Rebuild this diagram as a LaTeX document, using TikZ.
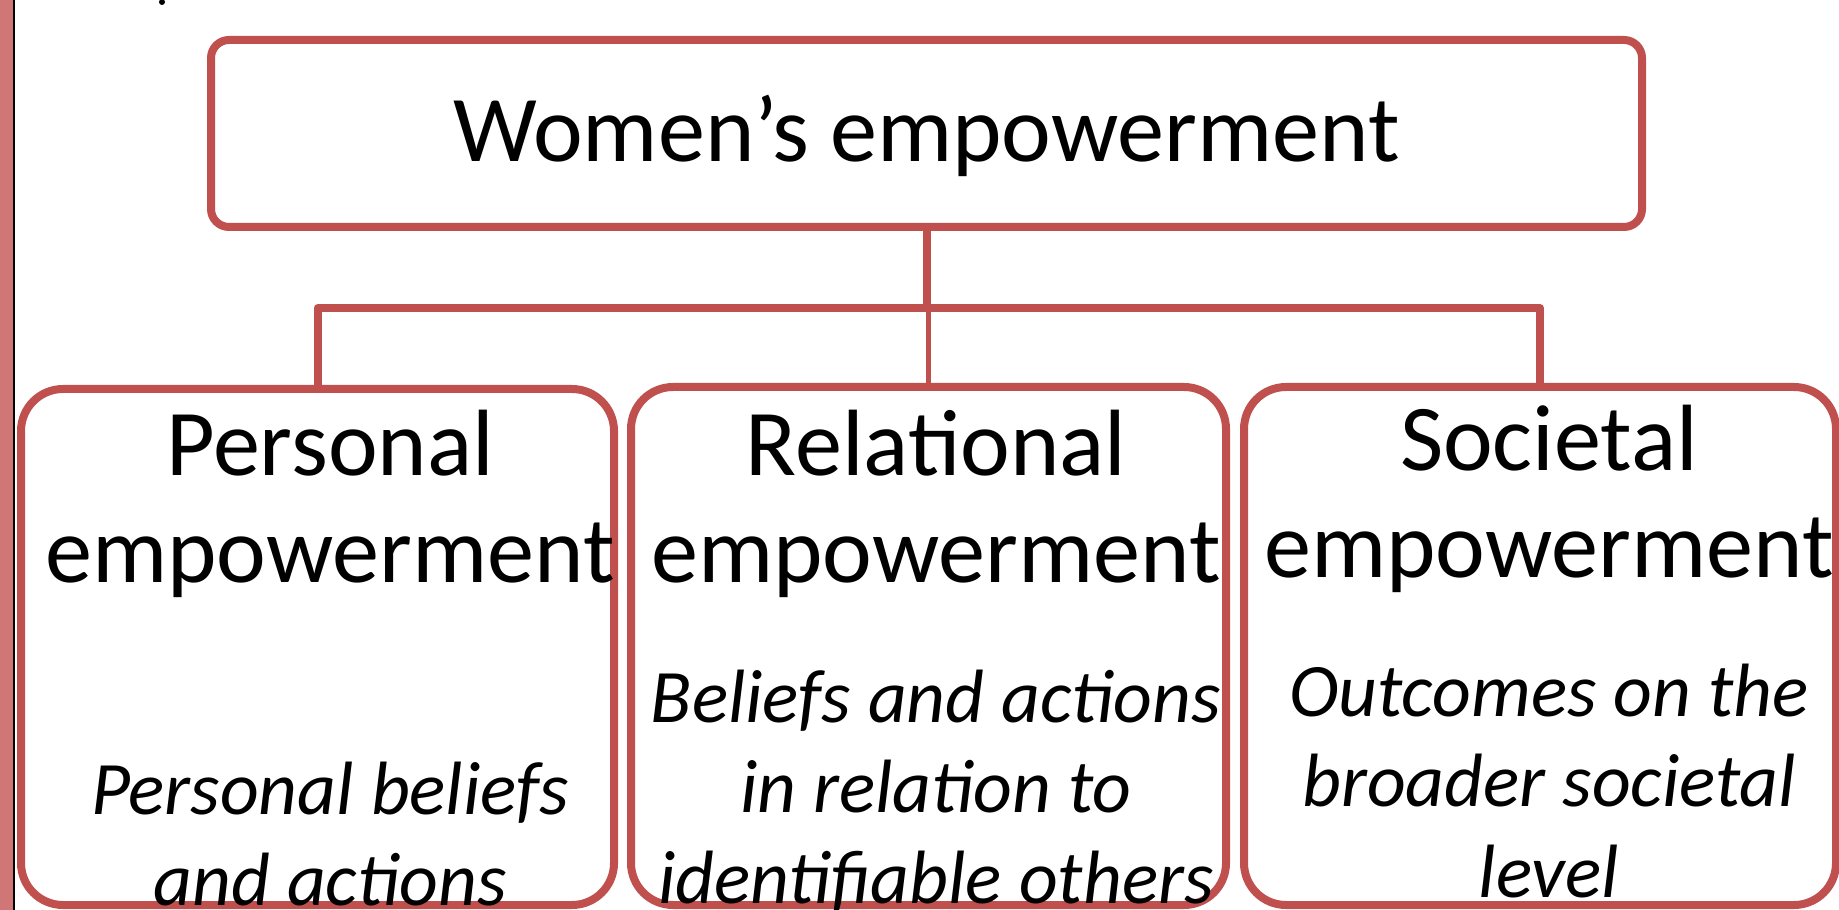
\documentclass[tikz,border=0pt]{standalone}
\usepackage{fontspec}
\setmainfont{Carlito}
\usepackage{tikz}
\definecolor{boxred}{RGB}{192,80,77}
\definecolor{sidebar}{RGB}{208,118,118}

\begin{document}
\begin{tikzpicture}[
    box/.style={draw=boxred, line width=0.08cm, rounded corners=0.42cm, outer sep=0pt, inner sep=0pt},
    link/.style={draw=boxred, line width=0.08cm, line join=round},
    thinlink/.style={draw=boxred, line width=0.05cm},
    title/.style={anchor=base, align=center, font=\fontsize{26.8}{30.6}\selectfont},
    desc/.style={anchor=base, align=center, font=\fontsize{21.5}{25.7}\selectfont\itshape}]
            \useasboundingbox (0,0) rectangle (18.39,-9.10);
            \fill[sidebar] (0,0) rectangle (0.13,-9.10);
            \fill[black] (0.13,0) rectangle (0.15,-9.10);
            \fill[black] (1.62,-0.02) circle (0.03);
            % top box
            \node[box, rounded corners=0.18cm, minimum width=14.31cm, minimum height=1.87cm] (women) at (9.265,-1.335) {};
            \node[title] (womentxt) at (9.265,-1.62) {Women’s empowerment};
            % three boxes
            \node[box, minimum width=5.93cm, minimum height=5.16cm] (personal) at (3.175,-6.47) {};
            \node[box, minimum width=5.95cm, minimum height=5.18cm] (relational) at (9.285,-6.46) {};
            \node[box, minimum width=5.92cm, minimum height=5.18cm] (societal) at (15.40,-6.46) {};
            % base anchor sits on the last line
            \node[title] (personaltxt) at (3.30,-5.83) {Personal\\empowerment};
            \node[title] (relationaltxt) at (9.36,-5.83) {Relational\\empowerment};
            \node[title] (societaltxt) at (15.49,-5.78) {Societal\\empowerment};
            \node[desc] (personaldesc) at (3.30,-9.05) {Personal beliefs\\and actions};
            \node[desc] (relationaldesc) at (9.36,-9.03) {Beliefs and actions\\in relation to\\identifiable others};
            \node[desc] (societaldesc) at (15.49,-8.97) {Outcomes on the\\broader societal\\level};
            % connectors
            \coordinate (bar) at (9.265,-3.08);
            \draw[link] (women.south) -- (bar);
            \draw[link] (personal.north) |- (bar) -| (societal.north);
            \draw[thinlink] (relational.north |- bar) -- (relational.north);
        \end{tikzpicture}
\end{document}
